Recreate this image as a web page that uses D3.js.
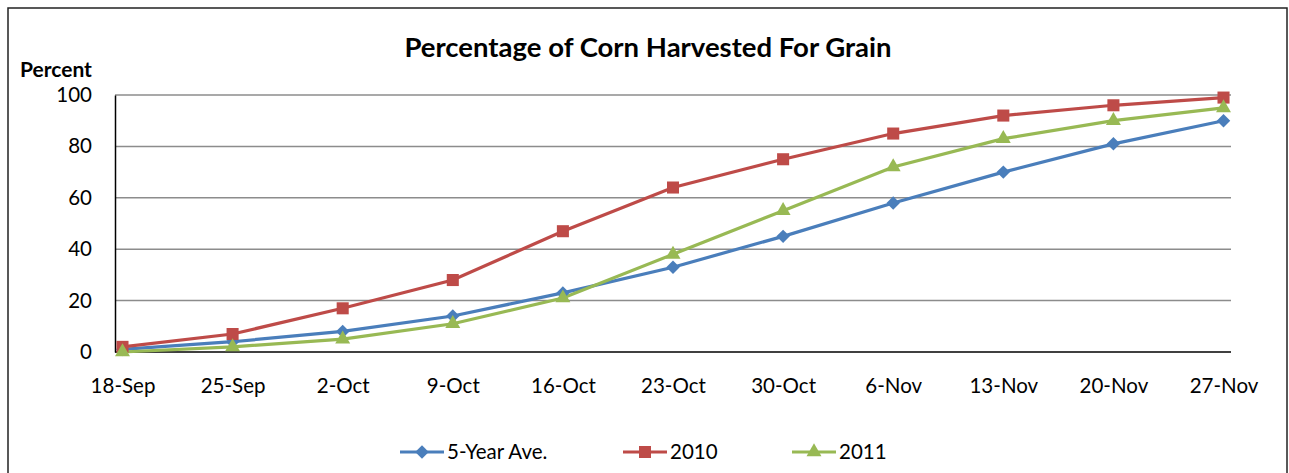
<!DOCTYPE html>
<html>
<head>
<meta charset="utf-8">
<script src="https://cdn.jsdelivr.net/npm/d3@7"></script>
<style>
  body { margin: 0; background: #fff; }
  svg text { font-family: Lato, "Open Sans", sans-serif; fill: #000; }
</style>
</head>
<body>
<div id="chart"></div>
<script>
// Data
const weeks = ["18-Sep", "25-Sep", "2-Oct", "9-Oct", "16-Oct", "23-Oct", "30-Oct", "6-Nov", "13-Nov", "20-Nov", "27-Nov"];
const fiveYearAve = [1, 4, 8, 14, 23, 33, 45, 58, 70, 81, 90];
const year2010 = [2, 7, 17, 28, 47, 64, 75, 85, 92, 96, 99];
const year2011 = [0, 2, 5, 11, 21, 38, 55, 72, 83, 90, 95];
const yTicks = [0, 20, 40, 60, 80, 100];

const series = [
    { name: "5-Year Ave.", values: fiveYearAve, color: "#4a7ebb", symbol: d3.symbolDiamond2, size: 115 },
    { name: "2010", values: year2010, color: "#be4b48", symbol: d3.symbolSquare2, size: 185 },
    { name: "2011", values: year2011, color: "#98b954", symbol: d3.symbolTriangle2, size: 160 }
];

const W = 1289, H = 473;
const margin = { top: 95, right: 58, bottom: 121, left: 115 };
const width = W - margin.left - margin.right;
const height = H - margin.top - margin.bottom;

const svg = d3.select("#chart").append("svg")
    .attr("width", W)
    .attr("height", H);

// outer frame
svg.append("rect")
    .attr("x", 8).attr("y", 8)
    .attr("width", 1279).attr("height", 480)
    .attr("fill", "none")
    .attr("stroke", "#222")
    .attr("stroke-width", 1.5);

svg.append("text")
    .attr("x", 648).attr("y", 57)
    .attr("text-anchor", "middle")
    .attr("font-size", 27.5)
    .attr("font-weight", "bold")
    .text("Percentage of Corn Harvested For Grain");

svg.append("text")
    .attr("x", 20).attr("y", 77)
    .attr("font-size", 21)
    .attr("font-weight", "bold")
    .text("Percent");

const g = svg.append("g")
    .attr("transform", `translate(${margin.left},${margin.top})`);

const x = d3.scalePoint()
    .domain(weeks)
    .range([0, width])
    .padding(0.068);

const y = d3.scaleLinear()
    .domain([0, 100])
    .range([height, 0]);

// gridlines
g.selectAll(".grid")
    .data(yTicks.filter(d => d > 0))
    .enter().append("line")
    .attr("class", "grid")
    .attr("x1", 0).attr("x2", width)
    .attr("y1", d => y(d)).attr("y2", d => y(d))
    .attr("stroke", "#8c8c8c")
    .attr("stroke-width", 1.5);

// y axis
const yAxis = g.append("g")
    .call(d3.axisLeft(y).tickValues(yTicks).tickSize(0).tickPadding(23));
yAxis.select(".domain").attr("stroke", "#000").attr("stroke-width", 1.5);
yAxis.selectAll("text").attr("font-size", 20.5).style("font-family", "Lato, sans-serif");

// x axis
const xAxis = g.append("g")
    .attr("transform", `translate(0,${height})`)
    .call(d3.axisBottom(x).tickSize(0).tickPadding(26));
xAxis.select(".domain").attr("stroke", "#000").attr("stroke-width", 1.5)
    .attr("d", `M0,0H${width}`);
xAxis.selectAll("text").attr("font-size", 20.5).style("font-family", "Lato, sans-serif");

const line = d3.line()
    .x((d, i) => x(weeks[i]))
    .y(d => y(d));

series.forEach(s => {
    g.append("path")
        .datum(s.values)
        .attr("fill", "none")
        .attr("stroke", s.color)
        .attr("stroke-width", 3.2)
        .attr("d", line);
});

series.forEach(s => {
    g.selectAll(null)
        .data(s.values)
        .enter().append("path")
        .attr("d", d3.symbol().type(s.symbol).size(s.size))
        .attr("transform", (d, i) => `translate(${x(weeks[i])},${y(d)})`)
        .attr("fill", s.color);
});

// legend
const legendX = [400, 623, 792];
const legend = svg.selectAll(".legend")
    .data(series)
    .enter().append("g")
    .attr("class", "legend")
    .attr("transform", (d, i) => `translate(${legendX[i]},452)`);

legend.append("line")
    .attr("x1", 0).attr("x2", 44)
    .attr("stroke", d => d.color)
    .attr("stroke-width", 3.2);

legend.append("path")
    .attr("transform", "translate(22,0)")
    .attr("d", d => d3.symbol().type(d.symbol).size(d.size)())
    .attr("fill", d => d.color);

legend.append("text")
    .attr("x", 47).attr("y", 7)
    .attr("font-size", 20.5)
    .text(d => d.name);
</script>
</body>
</html>
